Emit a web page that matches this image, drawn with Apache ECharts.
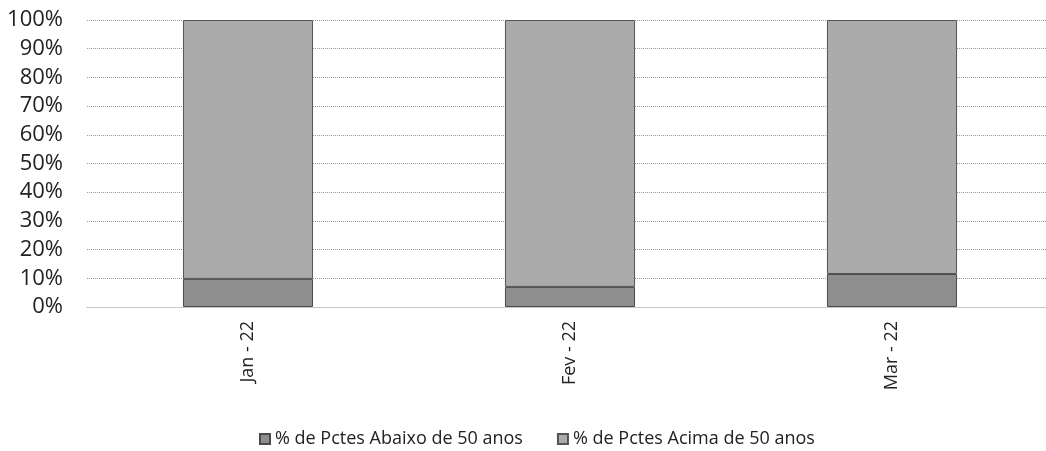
<!DOCTYPE html>
<html><head><meta charset="utf-8">
<script src="https://cdn.jsdelivr.net/npm/echarts@6/dist/echarts.min.js"></script>
<style>html,body{margin:0;padding:0;background:#fff;overflow:hidden}#c{width:1070px;height:451px}</style>
</head><body><div id="c"></div>
<script>
const categories = ['Jan - 22', 'Fev - 22', 'Mar - 22'];
const below50 = [9.8, 7.0, 11.5];
const above50 = [90.2, 93.0, 88.5];
const seriesNames = ['% de Pctes Abaixo de 50 anos', '% de Pctes Acima de 50 anos'];
const font = '"Open Sans", "Noto Sans", sans-serif';
const chart = echarts.init(document.getElementById('c'));
chart.setOption({
  animation: false,
  grid: { left: 87, top: 20, width: 966, height: 287, containLabel: false },
  legend: {
    top: 425, left: 254, itemWidth: 10, itemHeight: 10, itemGap: 34,
    icon: 'rect',
    textStyle: { fontFamily: font, fontSize: 18, color: '#222' },
    data: seriesNames
  },
  xAxis: {
    type: 'category', data: categories,
    axisLine: { show: true, lineStyle: { color: '#bbb', type: 'dotted' } },
    axisTick: { show: false },
    axisLabel: { rotate: 90, fontFamily: font, fontSize: 18, color: '#222', margin: 14 }
  },
  yAxis: {
    type: 'value', min: 0, max: 100, interval: 10,
    axisLine: { show: false }, axisTick: { show: false },
    axisLabel: { formatter: '{value}%', fontFamily: font, fontSize: 22, color: '#222', margin: 24 },
    splitLine: { lineStyle: { color: '#999', type: 'dotted', width: 1 } }
  },
  series: [
    { name: seriesNames[0], type: 'bar', stack: 's', data: below50, barWidth: '40.4%',
      itemStyle: { color: '#8e8e8e', borderColor: '#4a4a4a', borderWidth: 1 } },
    { name: seriesNames[1], type: 'bar', stack: 's', data: above50, barWidth: '40.4%',
      itemStyle: { color: '#ababab', borderColor: '#555', borderWidth: 1 } }
  ]
});
</script></body></html>
